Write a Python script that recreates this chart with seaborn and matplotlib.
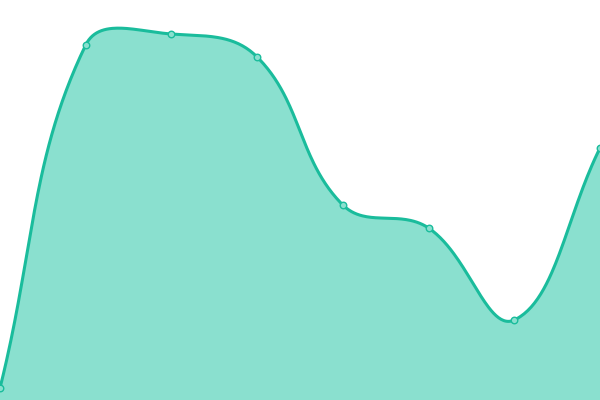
import matplotlib
matplotlib.use("Agg")
import matplotlib.pyplot as plt
import seaborn as sns
import numpy as np

# values (height above bottom, in px of a 400 px tall chart)
labels = ["1", "2", "3", "4", "5", "6", "7", "8"]
values = [12, 355, 366, 343, 195, 172, 80, 252]

line_color = "#1abc9c"
fill_color = "#8ae0cf"


def spline_path(xs, ys, t=0.4, n=60):
    # Chart.js-like cardinal spline through the points
    pts = np.column_stack([xs, ys]).astype(float)
    m = len(pts)
    cps = []
    for i in range(m):
        prev = pts[max(i - 1, 0)]
        cur = pts[i]
        nxt = pts[min(i + 1, m - 1)]
        d01 = np.hypot(*(cur - prev))
        d12 = np.hypot(*(nxt - cur))
        tot = d01 + d12
        s01 = d01 / tot if tot else 0
        s12 = d12 / tot if tot else 0
        cps.append((cur - t * s01 * (nxt - prev), cur + t * s12 * (nxt - prev)))
    out = [pts[0]]
    u = np.linspace(0, 1, n)[1:, None]
    for i in range(m - 1):
        p0, p3 = pts[i], pts[i + 1]
        p1, p2 = cps[i][1], cps[i + 1][0]
        seg = ((1 - u) ** 3) * p0 + 3 * ((1 - u) ** 2) * u * p1 + 3 * (1 - u) * u ** 2 * p2 + u ** 3 * p3
        out.extend(seg)
    out = np.array(out)
    return out[:, 0], out[:, 1]


sns.set_style("white")
fig = plt.figure(figsize=(6, 4), dpi=100)
ax = fig.add_axes([0, 0, 1, 1])

xs = np.linspace(0, 600, len(values))
cx, cy = spline_path(xs, values)

ax.fill_between(cx, 0, cy, color=fill_color, lw=0)
ax.plot(cx, cy, color=line_color, lw=2.2, solid_capstyle="round")
sns.scatterplot(x=xs, y=values, ax=ax, s=22, color=fill_color,
                edgecolor=line_color, linewidth=1, zorder=3)

ax.set_xlim(0, 600)
ax.set_ylim(0, 400)
ax.axis("off")

fig.savefig("out.png", dpi=100)
